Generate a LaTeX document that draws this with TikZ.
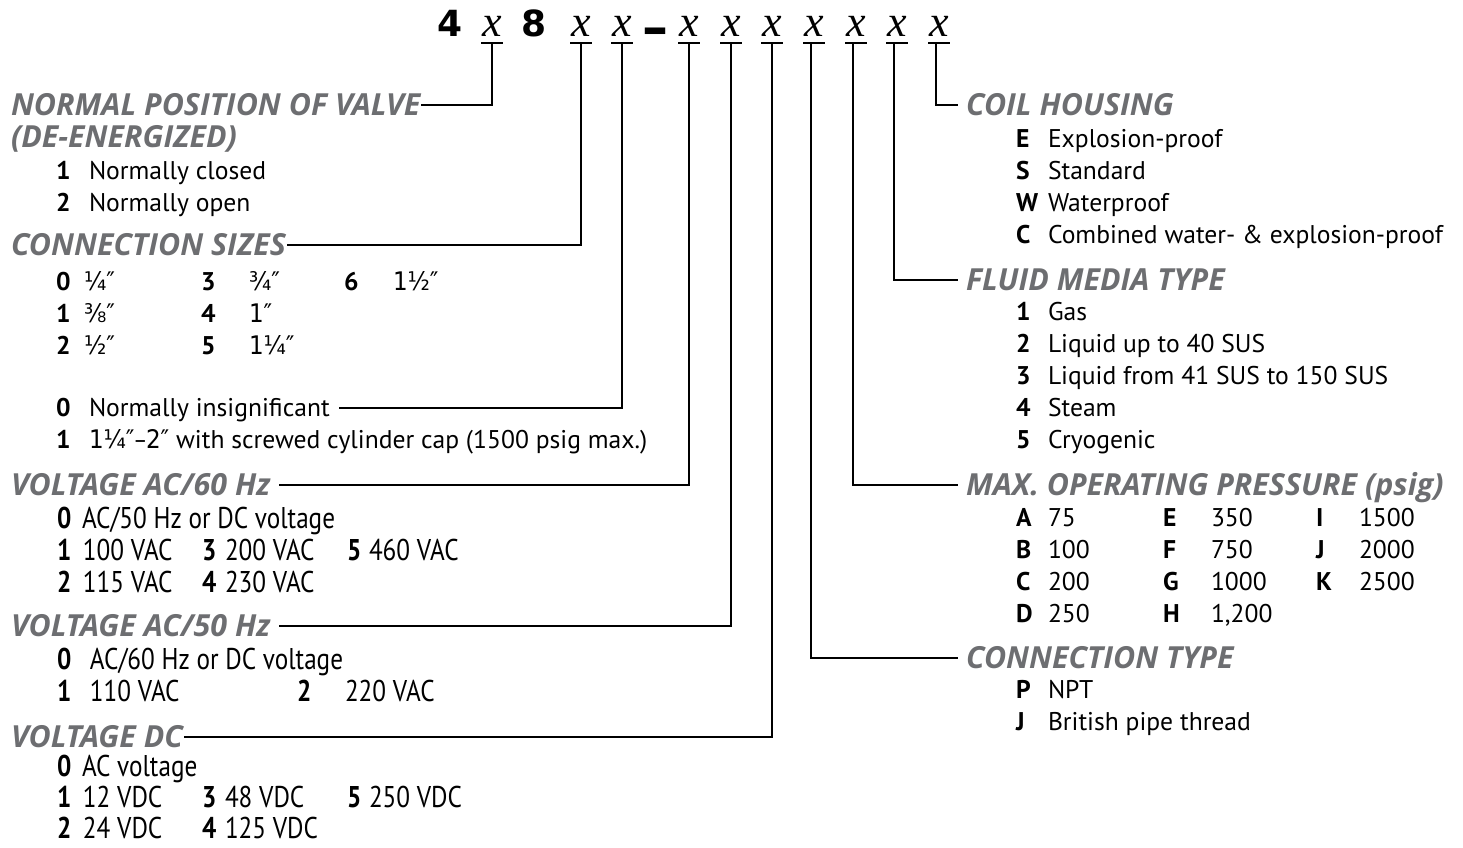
\documentclass[tikz,border=0pt]{standalone}
\usepackage{fontspec}
\usepackage{xcolor}
\setmainfont{PT Sans}
\newfontfamily\condfont[FakeStretch=0.84]{PT Sans}
\newfontfamily\fracfont{DejaVu Sans Condensed}
\newfontfamily\headfont{Open Sans}
\newfontfamily\digitfont{DejaVu Sans}
\newfontfamily\codefont{Liberation Serif}
\usetikzlibrary{positioning}
\definecolor{headgray}{HTML}{6D6E71}
\newcommand{\fq}[1]{{\fracfont #1}}

\begin{document}
\fontsize{12.8}{15}\selectfont
\begin{tikzpicture}[
  x=0.5pt, y=-0.5pt,
  line width=1pt,
  head/.style={anchor=base west, inner sep=0pt, text=headgray, font=\fontsize{15.2}{17}\headfont\bfseries\itshape},
  key/.style={anchor=base west, inner sep=0pt, font=\bfseries},
  entry/.style={anchor=base west, inner sep=0pt},
  ckey/.style={anchor=base west, inner sep=0pt, font=\fontsize{15}{17}\condfont\bfseries},
  centry/.style={anchor=base west, inner sep=0pt, font=\fontsize{15}{17}\condfont},
  codechar/.style={anchor=base, inner sep=0pt, font=\fontsize{22}{24}\codefont\itshape},
  fixed/.style={anchor=base, inner sep=0pt, font=\fontsize{18}{20}\digitfont\bfseries},
  leader/.style={draw=black, line width=1pt},
  uline/.style={draw=black, line width=1.2pt}
]
  \useasboundingbox (0,0) rectangle (1463,847);

  % model code
  \node[fixed] (d4) at (450,36) {4};
  \node[fixed] (d8) at (534,36) {8};
  \node[fixed, font=\fontsize{26}{28}\digitfont\bfseries] (dash) at (655,45) {–};
  \foreach \i/\px in {1/492,2/581,3/622,4/689,5/731,6/772,7/814,8/856,9/897,10/939}{
    \node[codechar] (c\i) at (\px,36) {x};
    \coordinate (u\i) at ([yshift=-3.6pt]c\i.base);
  }
  \foreach \i in {1,...,10}
    \draw[uline] ([xshift=-5.3pt]u\i) -- ([xshift=5.3pt]u\i);

  % left column
  \node[head] (hnormal) at (10,115) {NORMAL POSITION OF VALVE};
  \node[head] (hdeen) at (10,147) {(DE-ENERGIZED)};
  \node[key] (kn1) at (55,179) {1};
  \node[entry] (en1) at (88,179) {Normally closed};
  \node[key] (kn2) at (55,211) {2};
  \node[entry] (en2) at (88,211) {Normally open};

  \node[head] (hsize) at (10,255) {CONNECTION SIZES};
  \foreach \k/\v/\kx/\vx/\py in {0/¼″/55/83/290, 1/⅜″/55/83/322, 2/½″/55/83/354,
      3/¾″/200/248/290, 4/1″/200/248/322, 5/1¼″/200/248/354, 6/1½″/343/392/290}{
    \node[key] (ks\k) at (\kx,\py) {\k};
    \node[entry] (vs\k) at (\vx,\py) {\fq{\v}};
  }
  \node[key] (ki0) at (55,416) {0};
  \node[entry] (ei0) at (88,416) {Normally insignificant};
  \node[key] (ki1) at (55,448) {1};
  \node[entry] (ei1) at (88,448) {\fq{1¼″–2″} with screwed cylinder cap (1500 psig max.)};

  \node[head] (hv60) at (10,495) {VOLTAGE AC/60 Hz};
  \node[ckey] (ka0) at (56,528) {0};
  \node[centry] (va0) at (81,528) {AC/50 Hz or DC voltage};
  \foreach \k/\v/\kx/\vx/\py in {1/100 VAC/56/82/560, 3/200 VAC/201/224/560, 5/460 VAC/346/368/560,
      2/115 VAC/56/82/592, 4/230 VAC/201/224/592}{
    \node[ckey] (ka\k) at (\kx,\py) {\k};
    \node[centry] (va\k) at (\vx,\py) {\v};
  }

  \node[head] (hv50) at (10,636) {VOLTAGE AC/50 Hz};
  \node[ckey] (kb0) at (56,669) {0};
  \node[centry] (vb0) at (89,669) {AC/60 Hz or DC voltage};
  \node[ckey] (kb1) at (56,701) {1};
  \node[centry] (vb1) at (89,701) {110 VAC};
  \node[ckey] (kb2) at (296,701) {2};
  \node[centry] (vb2) at (344,701) {220 VAC};

  \node[head] (hvdc) at (10,747) {VOLTAGE DC};
  \node[ckey] (kc0) at (56,776) {0};
  \node[centry] (vc0) at (81,776) {AC voltage};
  \foreach \k/\v/\kx/\vx/\py in {1/12 VDC/56/82/807, 3/48 VDC/201/224/807, 5/250 VDC/346/368/807,
      2/24 VDC/56/82/838, 4/125 VDC/201/224/838}{
    \node[ckey] (kc\k) at (\kx,\py) {\k};
    \node[centry] (vc\k) at (\vx,\py) {\v};
  }

  % right column
  \node[head] (hcoil) at (965,115) {COIL HOUSING};
  \foreach \k/\v [count=\r] in {E/Explosion-proof, S/Standard, W/Waterproof, C/Combined water- \& explosion-proof}{
    \node[key] (kh\r) at (1015,115+32*\r) {\k};
    \node[entry] (vh\r) at (1047,115+32*\r) {\v};
  }

  \node[head] (hfluid) at (965,290) {FLUID MEDIA TYPE};
  \foreach \v [count=\r] in {Gas, Liquid up to 40 SUS, Liquid from 41 SUS to 150 SUS, Steam, Cryogenic}{
    \node[key] (kf\r) at (1015,288+32*\r) {\r};
    \node[entry] (vf\r) at (1047,288+32*\r) {\v};
  }

  \node[head] (hmax) at (965,495) {MAX. OPERATING PRESSURE (psig)};
  \foreach \k/\v/\kx/\vx/\py in {A/75/1015/1047/526, B/100/1015/1047/558, C/200/1015/1047/590, D/250/1015/1047/622,
      E/350/1162/1210/526, F/750/1162/1210/558, G/1000/1162/1210/590, H/{1,200}/1162/1210/622,
      I/1500/1315/1358/526, J/2000/1315/1358/558, K/2500/1315/1358/590}{
    \node[key] (kp\k) at (\kx,\py) {\k};
    \node[entry] (vp\k) at (\vx,\py) {\v};
  }

  \node[head] (hctype) at (965,668) {CONNECTION TYPE};
  \node[key] (kt1) at (1015,698) {P};
  \node[entry] (vt1) at (1047,698) {NPT};
  \node[key] (kt2) at (1015,730) {J};
  \node[entry] (vt2) at (1047,730) {British pipe thread};

  % leaders
  \draw[leader] (u1) |- ([yshift=5pt]hnormal.base east);
  \draw[leader] (u2) |- ([yshift=5pt]hsize.base east);
  \draw[leader] (u3) |- ([xshift=4pt,yshift=4pt]ei0.base east);
  \draw[leader] (u4) |- ([xshift=4pt,yshift=5pt]hv60.base east);
  \draw[leader] (u5) |- ([xshift=4pt,yshift=5pt]hv50.base east);
  \draw[leader] (u6) |- ([yshift=5pt]hvdc.base east);
  \draw[leader] ([xshift=-1.7pt]u7) |- ([xshift=-3.5pt,yshift=5pt]hctype.base west);
  \draw[leader] ([xshift=-1.7pt]u8) |- ([xshift=-3.5pt,yshift=5pt]hmax.base west);
  \draw[leader] ([xshift=-1.7pt]u9) |- ([xshift=-3.5pt,yshift=5pt]hfluid.base west);
  \draw[leader] ([xshift=-1.7pt]u10) |- ([xshift=-3.5pt,yshift=5pt]hcoil.base west);
\end{tikzpicture}
\end{document}
